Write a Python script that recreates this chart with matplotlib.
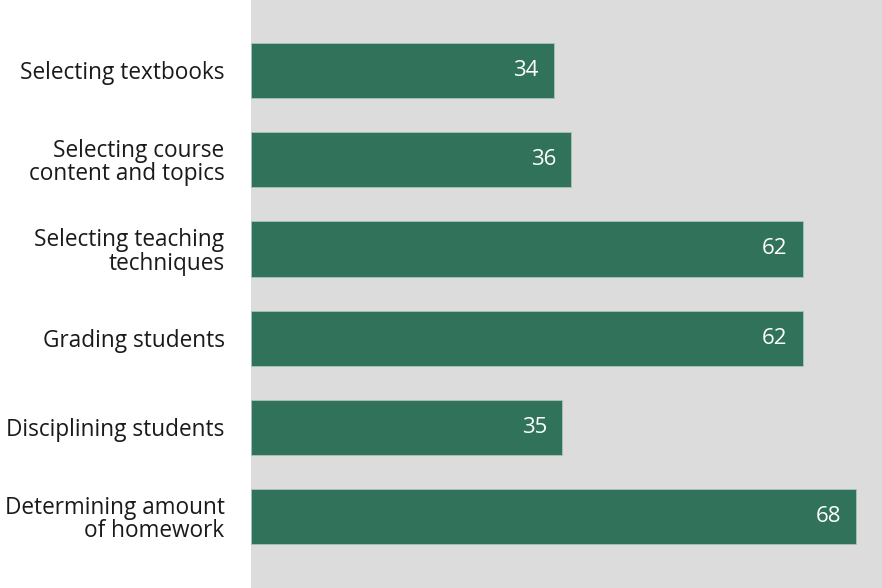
import matplotlib.pyplot as plt

categories = [
    "Selecting textbooks",
    "Selecting course\ncontent and topics",
    "Selecting teaching\ntechniques",
    "Grading students",
    "Disciplining students",
    "Determining amount\nof homework",
]
values = [34, 36, 62, 62, 35, 68]

plt.rcParams['font.family'] = ['Open Sans', 'DejaVu Sans']

fig = plt.figure(figsize=(8.82, 5.88), dpi=100)
ax = fig.add_axes([251 / 882, 0, 631 / 882, 1])
ax.set_facecolor("#dcdcdc")

pos = range(len(categories))
bars = ax.barh(pos, values, height=0.62, color="#31735a", edgecolor="#a9c4b8", linewidth=0.6)

for b, v in zip(bars, values):
    ax.annotate(str(v), (b.get_width(), b.get_y() + b.get_height() / 2),
                xytext=(-11, 0), textcoords="offset points",
                ha="right", va="center", color="white", fontsize=16)

ax.set_xlim(0, 70.9)
ax.set_ylim(5.8, -0.79)
ax.set_yticks(list(pos))
ax.set_yticklabels(categories, fontsize=16.3, color="#1a1a1a", linespacing=0.98)
ax.tick_params(axis="y", length=0, pad=19)
ax.set_xticks([])
for s in ax.spines.values():
    s.set_visible(False)

fig.savefig("out.png", dpi=100)
